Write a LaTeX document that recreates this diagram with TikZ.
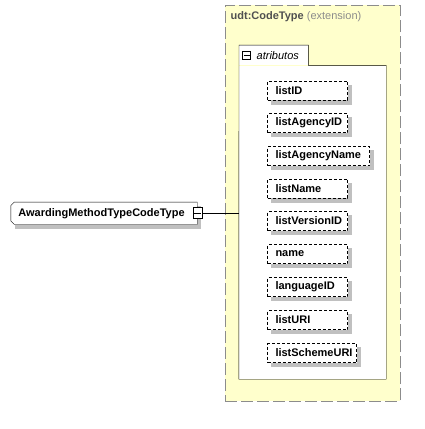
\documentclass[tikz,border=0pt]{standalone}
\usepackage{fontspec}
\setmainfont{Liberation Sans}
\usetikzlibrary{calc}
\definecolor{yel}{HTML}{FFFFCC}
\definecolor{shdc}{HTML}{C0C0C0}
\definecolor{dgray}{HTML}{8C8C8C}
\definecolor{tgray}{HTML}{505050}
\pgfdeclarelayer{bg}
\pgfdeclarelayer{shadowlayer}
\pgfsetlayers{bg,shadowlayer,main}
\begin{document}
\begin{tikzpicture}[x=1pt,y=-1pt,line width=1pt,
  attr/.style={draw,dash pattern=on 3pt off 2pt,fill=white,anchor=west,
    minimum height=19pt,inner xsep=8pt,inner ysep=0pt,
    font=\fontsize{11}{13}\selectfont\bfseries,align=left},
  expbox/.style={draw,fill=white,minimum width=9pt,minimum height=10pt,inner sep=0pt,line width=0.9pt},
  mainel/.style={minimum width=186pt,minimum height=22pt,inner sep=0pt},
]
\useasboundingbox (0,0) rectangle (425,429);

% attribute nodes
\node[attr,text width=64pt] (a1) at (267,90.5) {listID};
\node[attr,text width=64pt] (a2) at (267,123) {listAgencyID};
\node[attr,text width=86pt] (a3) at (267,156) {listAgencyName};
\node[attr,text width=64pt] (a4) at (267,188.5) {listName};
\node[attr,text width=64pt] (a5) at (267,221) {listVersionID};
\node[attr,text width=64pt] (a6) at (267,254) {name};
\node[attr,text width=64pt] (a7) at (267,287) {languageID};
\node[attr,text width=64pt] (a8) at (267,320) {listURI};
\node[attr,text width=73pt] (a9) at (267,353) {listSchemeURI};
\begin{pgfonlayer}{shadowlayer}
\foreach \n in {a1,a2,a3,a4,a5,a6,a7,a8,a9}{
  \path[fill=shdc] ($(\n.north west)+(4,4)$) rectangle ($(\n.south east)+(4,4)$);
}
\end{pgfonlayer}

\begin{pgfonlayer}{bg}
\fill[white] (0,0) rectangle (425,429);
% extension box
\node[draw=dgray,fill=yel,dash pattern=on 12pt off 4pt,minimum width=175pt,minimum height=396pt,inner sep=0pt] (ext) at (312.5,203) {};
% attributes group box
\node[fill=white,minimum width=147pt,minimum height=313.5pt,inner sep=0pt] (attrs) at (312.5,222.25) {};
\node[fill=white,minimum width=69pt,minimum height=20pt,inner sep=0pt,anchor=south west] (tab) at (239,65.5) {};
\end{pgfonlayer}

\node[anchor=west,inner sep=0pt,font=\fontsize{11}{13}\selectfont] (title) at (230.5,17)
  {\textcolor{tgray}{\bfseries udt:CodeType} \textcolor{dgray}{(extension)}};
\draw (attrs.south west) -- (tab.north west) -- (tab.north east) -- (tab.south east |- attrs.north)
  -- (attrs.north east) -- (attrs.south east) -- cycle;
\node[expbox,minimum width=8pt,minimum height=8pt] (tabexp) at (246.7,55.8) {};
\draw[line width=0.9pt] ([xshift=1.5pt]tabexp.west) -- ([xshift=-1.5pt]tabexp.east);
\node[anchor=west,inner sep=0pt,font=\fontsize{11}{13}\selectfont\itshape] (tabtxt) at (256.5,56) {atributos};

% main element
\node[mainel] (main) at (104,213.3) {};
\path[fill=shdc] ($(main.north west)+(4,4)$) rectangle ($(main.south east)+(4,4)$);
\filldraw[fill=white] ([shift={(3.5,0)}]main.north west) -- (main.north east) -- (main.south east)
  -- ([shift={(3.5,0)}]main.south west) -- ([shift={(0,-3.5)}]main.south west)
  -- ([shift={(0,3.5)}]main.north west) -- cycle;
\node[inner sep=0pt,font=\fontsize{11}{13}\selectfont\bfseries] (maintxt) at (101.5,213.3) {AwardingMethodTypeCodeType};
\node[expbox,minimum height=11pt] (mexp) at (197.5,213) {};
\draw[line width=0.9pt] ([xshift=1.5pt]mexp.west) -- ([xshift=-1.5pt]mexp.east);
\draw (mexp.east) -- (mexp.east -| attrs.west);
\end{tikzpicture}
\end{document}
